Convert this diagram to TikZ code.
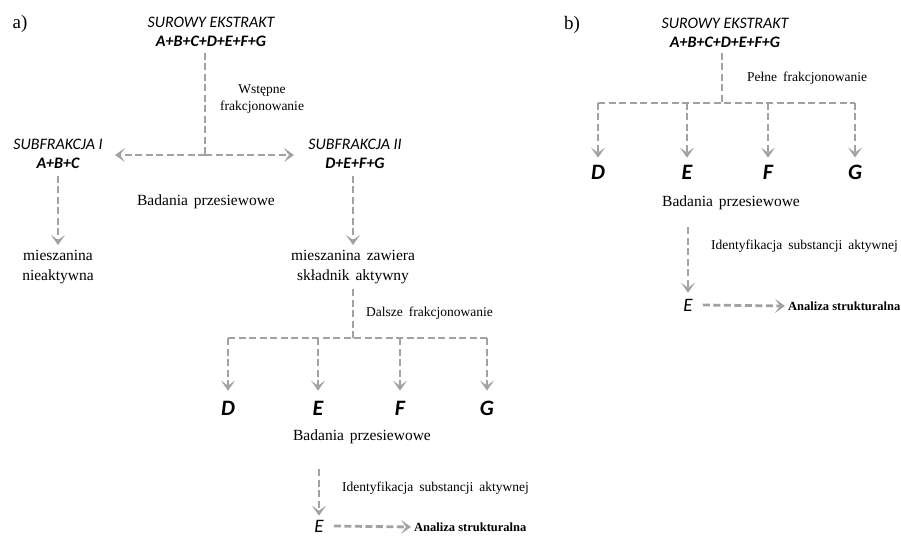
\documentclass[tikz,border=0pt]{standalone}
\usepackage{fontspec}
\setmainfont{Liberation Serif}
\newfontfamily\carlito{Carlito}
\usetikzlibrary{arrows.meta, positioning}
\definecolor{flow}{RGB}{162,162,162}
\newcommand\widespace{\spaceskip=6pt plus 1pt\relax}

\tikzset{
  flowline/.style={draw=flow, line width=2.8pt, dash pattern=on 7pt off 3.5pt},
  flowarrow/.style={flowline, -{Stealth[length=10pt, width=14pt, inset=5pt]}},
  extract/.style={font=\carlito\itshape\fontsize{16}{19}\selectfont, align=center, inner sep=1pt},
  compound/.style={font=\carlito\bfseries\itshape\fontsize{22}{24}\selectfont, inner sep=1pt},
  result/.style={font=\carlito\itshape\fontsize{19}{22}\selectfont, inner sep=0pt},
  stage/.style={font=\fontsize{15.5}{20}\selectfont\widespace, align=center, inner sep=1pt},
  note/.style={font=\fontsize{13.5}{17}\selectfont\widespace, align=center, inner sep=1pt},
  panel/.style={font=\fontsize{19}{20}\selectfont, inner sep=0pt}
}

\begin{document}
\begin{tikzpicture}[x=1pt,y=-1pt]
\useasboundingbox (0,0) rectangle (901,537);

% a) Wstepne frakcjonowanie
\node[panel] (tagA) at (20,24) {a)};
\node[extract] (rawA) at (211,32) {SUROWY EKSTRAKT\\\bfseries A+B+C+D+E+F+G};
\coordinate (jA) at (205,155);
\draw[flowline] ([yshift=-5pt]jA |- rawA.south) -- (jA);
\node[note] (preA) at (262,99) {Wstępne\\frakcjonowanie};
\node[extract] (subI) at (58,154) {SUBFRAKCJA I\\\bfseries A+B+C};
\node[extract] (subII) at (355,154) {SUBFRAKCJA II\\\bfseries D+E+F+G};
\coordinate (tipI) at (115,155);
\coordinate (tipII) at (294,155);
\draw[flowarrow] (jA) -- (tipI);
\draw[flowarrow] (jA) -- (tipII);
\node[stage] (screenA) at (206,202) {Badania przesiewowe};
\node[stage] (inactive) at (58,267) {mieszanina\\nieaktywna};
\node[stage] (active) at (353,267) {mieszanina zawiera\\składnik aktywny};
\draw[flowarrow] ([yshift=-6pt]subI.south -| inactive) -- ([yshift=4pt]inactive.north);
\draw[flowarrow] ([yshift=-6pt]active |- subII.south) -- ([yshift=4pt]active.north);

% a) Dalsze frakcjonowanie
\coordinate (jB) at (353,338);
\draw[flowline] ([yshift=-4pt]active.south) -- (jB);
\node[note, anchor=west] (moreA) at (365,313) {Dalsze frakcjonowanie};
\node[compound] (dA) at (228,408) {D};
\node[compound] (eA) at (318,408) {E};
\node[compound] (fA) at (400,408) {F};
\node[compound] (gA) at (487,408) {G};
\draw[flowline] (dA |- jB) -- (gA |- jB);
\foreach \c in {dA,eA,fA,gA}
  \draw[flowarrow] (\c |- jB) -- ([yshift=9pt]\c.north);
\node[stage] (screenA2) at (362,437) {Badania przesiewowe};
\node[result] (hitA) at (319,526) {E};
\draw[flowarrow] ([yshift=-24pt]screenA2.south -| hitA) -- ([yshift=4pt]hitA.north);
\node[note, anchor=west] (idA) at (341,488) {Identyfikacja substancji aktywnej};
\node[note, anchor=west, font=\bfseries\fontsize{12.5}{17}\selectfont] (strA) at (413,527) {Analiza strukturalna};
\draw[flowarrow] ([xshift=10pt]hitA.east) -- ([xshift=-2pt]strA.west);

% b) Pelne frakcjonowanie
\node[panel] (tagB) at (572,25) {b)};
\node[extract] (rawB) at (725,33) {SUROWY EKSTRAKT\\\bfseries A+B+C+D+E+F+G};
\coordinate (jC) at (722,103);
\draw[flowline] ([yshift=-4pt]jC |- rawB.south) -- (jC);
\node[note, anchor=west] (fullB) at (746,78) {Pełne frakcjonowanie};
\node[compound] (dB) at (598,172) {D};
\node[compound] (eB) at (687,172) {E};
\node[compound] (fB) at (768,172) {F};
\node[compound] (gB) at (855,172) {G};
\draw[flowline] (dB |- jC) -- (gB |- jC);
\foreach \c in {dB,eB,fB,gB}
  \draw[flowarrow] (\c |- jC) -- ([yshift=6pt]\c.north);
\node[stage] (screenB) at (731,203) {Badania przesiewowe};
\node[result] (hitB) at (688,305) {E};
\draw[flowarrow] ([yshift=-16pt]screenB.south -| hitB) -- ([yshift=6pt]hitB.north);
\node[note, anchor=west] (idB) at (710,246) {Identyfikacja substancji aktywnej};
\node[note, anchor=west, font=\bfseries\fontsize{12.5}{17}\selectfont] (strB) at (787,306) {Analiza strukturalna};
\draw[flowarrow] ([xshift=10pt]hitB.east) -- ([xshift=-2pt]strB.west);
\end{tikzpicture}
\end{document}
